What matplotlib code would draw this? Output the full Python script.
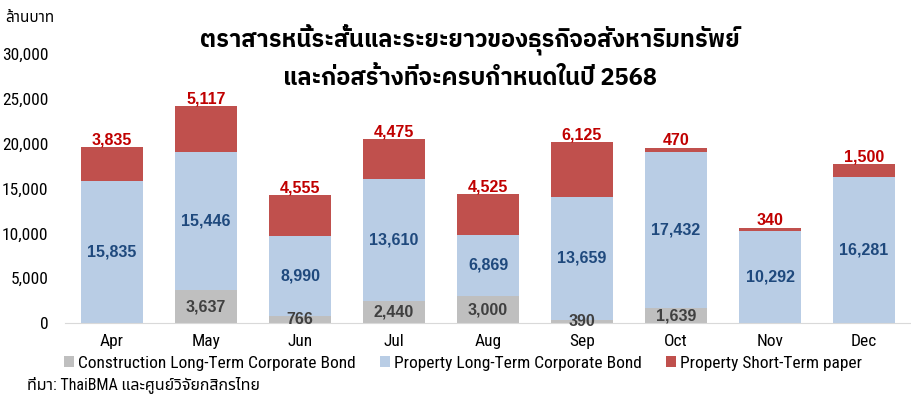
import matplotlib
matplotlib.use('Agg')
import matplotlib.pyplot as plt
import numpy as np

months = ['Apr', 'May', 'Jun', 'Jul', 'Aug', 'Sep', 'Oct', 'Nov', 'Dec']
construction_lt = [0, 3637, 766, 2440, 3000, 390, 1639, 0, 0]
property_lt = [15835, 15446, 8990, 13610, 6869, 13659, 17432, 10292, 16281]
property_st = [3835, 5117, 4555, 4475, 4525, 6125, 470, 340, 1500]
series_names = ['Construction Long-Term Corporate Bond',
                'Property Long-Term Corporate Bond',
                'Property Short-Term paper']
yticks = [0, 5000, 10000, 15000, 20000, 25000, 30000]

title = 'ตราสารหนี้ระสั้นและระยะยาวของธุรกิจอสังหาริมทรัพย์\nและก่อสร้างที่จะครบกำหนดในปี 2568'
unit = 'ล้านบาท'
source = 'ที่มา: ThaiBMA และศูนย์วิจัยกสิกรไทย'

c_grey = '#BFBFBF'
c_blue = '#B9CDE5'
c_red = '#C0504D'
narrow = ['Roboto Condensed', 'Noto Sans Thai', 'DejaVu Sans']
thai = ['Noto Sans Thai', 'DejaVu Sans']

fig = plt.figure(figsize=(9.12, 4.01), dpi=100)
ax = fig.add_axes([0.0713, 0.1945, 0.9276, 0.6708])

x = np.arange(len(months))
w = 0.66
cl = np.array(construction_lt)
pl = np.array(property_lt)
ps = np.array(property_st)

ax.bar(x, cl, w, color=c_grey, label=series_names[0])
ax.bar(x, pl, w, bottom=cl, color=c_blue, label=series_names[1])
ax.bar(x, ps, w, bottom=cl + pl, color=c_red, label=series_names[2])

# data labels: grey + blue centred in segment, red just above bar top
for i in range(len(months)):
    if cl[i] > 0:
        ax.text(x[i], cl[i] / 2, f'{cl[i]:,}', ha='center', va='center',
                fontsize=11.5, fontweight='bold', color='#404040', family='Liberation Sans')
    ax.text(x[i], cl[i] + pl[i] / 2, f'{pl[i]:,}', ha='center', va='center',
            fontsize=11.5, fontweight='bold', color='#1F497D', family='Liberation Sans')
    ax.annotate(f'{ps[i]:,}', (x[i], cl[i] + pl[i] + ps[i]), xytext=(0, 5),
                textcoords='offset points', ha='center', va='center',
                fontsize=11.5, fontweight='bold', color='#C00000', family='Liberation Sans')

ax.set_xlim(-0.5, len(months) - 0.5)
ax.set_ylim(0, 30000)
ax.set_yticks(yticks)
ax.set_yticklabels([f'{v:,}' for v in yticks], family=narrow, fontsize=12.5)
ax.set_xticks(x)
ax.set_xticklabels(months, family=narrow, fontsize=12.5)
ax.tick_params(length=0)
ax.tick_params(axis='y', pad=12)
ax.tick_params(axis='x', pad=8)
for s in ['top', 'right', 'left']:
    ax.spines[s].set_visible(False)
ax.spines['bottom'].set_color('#D9D9D9')

fig.text(0.515, 0.857, title, ha='center', va='center', fontsize=17,
         fontweight='bold', family=['IBM Plex Sans Thai', 'Noto Sans Thai'], linespacing=1.65)
fig.text(0.006, 0.955, unit, ha='left', va='center', fontsize=11, family=thai)
fig.text(0.03, 0.04, source, ha='left', va='center', fontsize=11.5, family=narrow)

ax.legend(loc='center', bbox_to_anchor=(0.47, -0.15), ncol=3, frameon=False,
          prop={'family': narrow, 'size': 12.5}, handlelength=0.6, handleheight=0.6,
          handletextpad=0.2, columnspacing=1.4)

fig.savefig('out.png', dpi=100)
